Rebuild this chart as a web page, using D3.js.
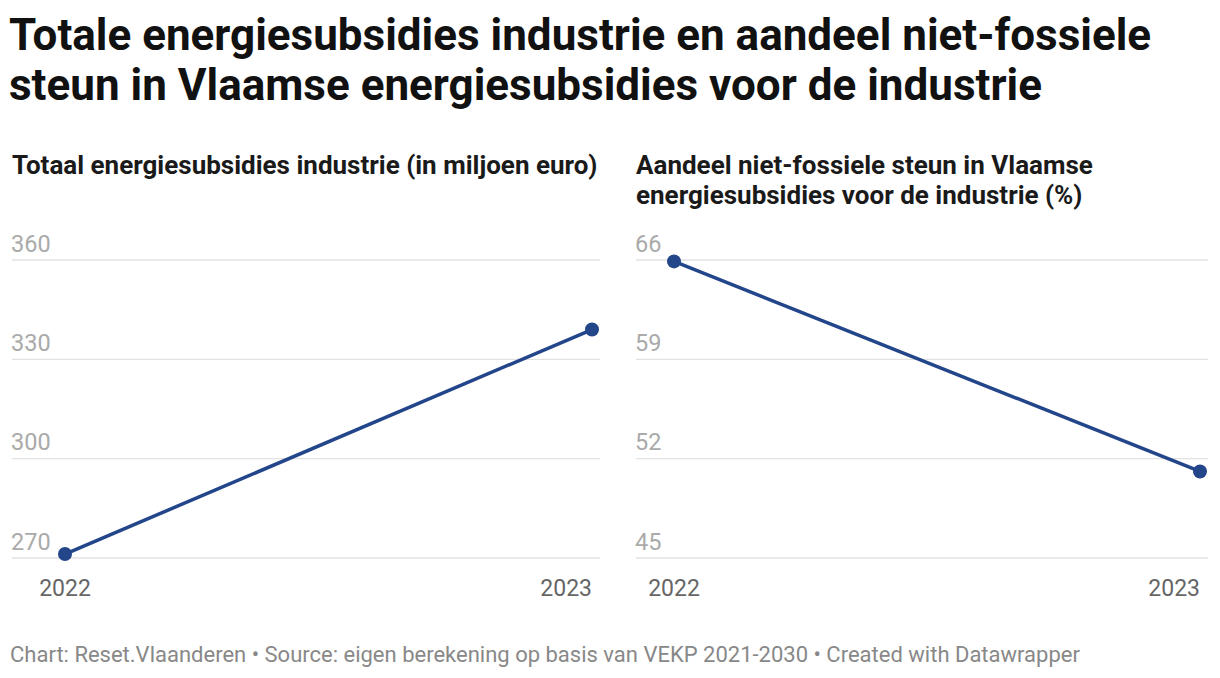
<!DOCTYPE html>
<html>
<head>
<meta charset="utf-8">
<script src="https://cdn.jsdelivr.net/npm/d3@7"></script>
<style>
  body { margin: 0; background: #fff; font-family: Roboto, "Noto Sans", sans-serif; }
  svg { display: block; }
</style>
</head>
<body>
<svg id="chart" width="1220" height="678"></svg>
<script>
// Data
const years = ['2022', '2023'];
const subsidyTotal = [271.2, 339.0];      // miljoen euro
const nonFossilShare = [65.9, 51.1];      // %
const leftTicks = [270, 300, 330, 360];
const rightTicks = [45, 52, 59, 66];

const titleLines = [
  'Totale energiesubsidies industrie en aandeel niet-fossiele',
  'steun in Vlaamse energiesubsidies voor de industrie'
];
const footerText = 'Chart: Reset.Vlaanderen \u2022 Source: eigen berekening op basis van VEKP 2021-2030 \u2022 Created with Datawrapper';

const lineColor = '#23468a';
const svg = d3.select('#chart');

// Title
svg.append('g').selectAll('text')
  .data(titleLines)
  .enter().append('text')
  .attr('x', 9)
  .attr('y', (d, i) => 50 + i * 49.5)
  .attr('font-size', 44)
  .attr('font-weight', 700)
  .attr('fill', '#111')
  .text(d => d);

// Footer
svg.append('text')
  .attr('x', 10)
  .attr('y', 662)
  .attr('font-size', 22)
  .attr('fill', '#888')
  .text(footerText);

function drawPanel(opts) {
  const g = svg.append('g');

  g.selectAll('.hdr')
    .data(opts.header)
    .enter().append('text')
    .attr('class', 'hdr')
    .attr('x', opts.left + 2)
    .attr('y', (d, i) => 174 + i * 30)
    .attr('font-size', 26)
    .attr('font-weight', 700)
    .attr('fill', '#1a1a1a')
    .text(d => d);

  const x = d3.scalePoint()
    .domain(opts.categories)
    .range([opts.plotLeft, opts.plotRight]);

  const y = d3.scaleLinear()
    .domain(d3.extent(opts.ticks))
    .range([558, 260]);

  // gridlines
  g.selectAll('.grid')
    .data(opts.ticks)
    .enter().append('line')
    .attr('x1', opts.left + 2)
    .attr('x2', opts.right)
    .attr('y1', d => y(d))
    .attr('y2', d => y(d))
    .attr('stroke', '#e2e2e2')
    .attr('stroke-width', 1.3);

  // tick labels
  g.selectAll('.ytick')
    .data(opts.ticks)
    .enter().append('text')
    .attr('x', opts.left + 1)
    .attr('y', d => y(d) - 8.5)
    .attr('font-size', 23.5)
    .attr('fill', '#aaa')
    .text(d => d);

  // x labels: first centred, last right-aligned
  g.selectAll('.xtick')
    .data(opts.categories)
    .enter().append('text')
    .attr('x', d => x(d))
    .attr('y', 596)
    .attr('text-anchor', (d, i) => i === opts.categories.length - 1 ? 'end' : 'middle')
    .attr('font-size', 23)
    .attr('fill', '#666')
    .text(d => d);

  const pts = opts.categories.map((c, i) => ({ c, v: opts.values[i] }));

  g.append('path')
    .datum(pts)
    .attr('fill', 'none')
    .attr('stroke', lineColor)
    .attr('stroke-width', 3.5)
    .attr('d', d3.line().x(d => x(d.c)).y(d => y(d.v)));

  g.selectAll('.dot')
    .data(pts)
    .enter().append('circle')
    .attr('cx', d => x(d.c))
    .attr('cy', d => y(d.v))
    .attr('r', 7)
    .attr('fill', lineColor);
}

drawPanel({
  header: ['Totaal energiesubsidies industrie (in miljoen euro)'],
  left: 10, right: 600, plotLeft: 65, plotRight: 592,
  categories: years, values: subsidyTotal, ticks: leftTicks
});

drawPanel({
  header: ['Aandeel niet-fossiele steun in Vlaamse', 'energiesubsidies voor de industrie (%)'],
  left: 634, right: 1208, plotLeft: 674, plotRight: 1200,
  categories: years, values: nonFossilShare, ticks: rightTicks
});
</script>
</body>
</html>
